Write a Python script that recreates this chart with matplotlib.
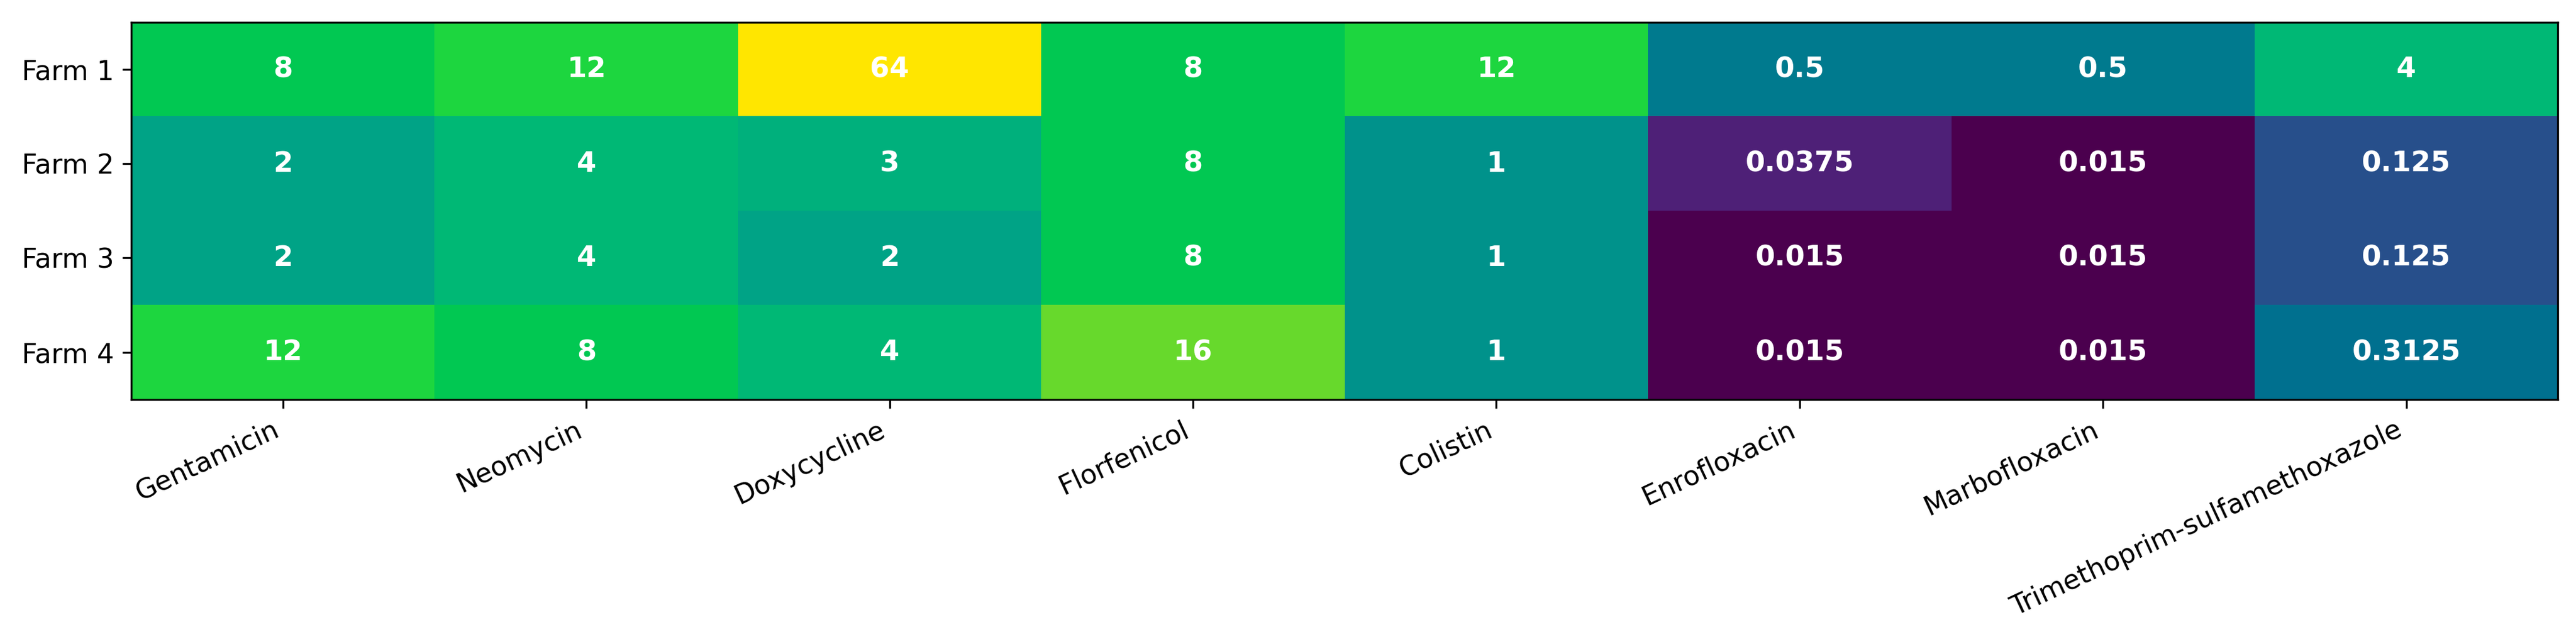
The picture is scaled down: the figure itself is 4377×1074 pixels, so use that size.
import numpy as np
import matplotlib
matplotlib.use("Agg")
import matplotlib.pyplot as plt
from matplotlib.colors import LinearSegmentedColormap, LogNorm

# Datos (MIC por granja y antibiótico)
farms = ["Farm 1", "Farm 2", "Farm 3", "Farm 4"]
antibiotics = ["Gentamicin", "Neomycin", "Doxycycline", "Florfenicol",
               "Colistin", "Enrofloxacin", "Marbofloxacin",
               "Trimethoprim-sulfamethoxazole"]
farm1 = [8, 12, 64, 8, 12, 0.5, 0.5, 4]
farm2 = [2, 4, 3, 8, 1, 0.0375, 0.015, 0.125]
farm3 = [2, 4, 2, 8, 1, 0.015, 0.015, 0.125]
farm4 = [12, 8, 4, 16, 1, 0.015, 0.015, 0.3125]
labels = [["8", "12", "64", "8", "12", "0.5", "0.5", "4"],
          ["2", "4", "3", "8", "1", "0.0375", "0.015", "0.125"],
          ["2", "4", "2", "8", "1", "0.015", "0.015", "0.125"],
          ["12", "8", "4", "16", "1", "0.015", "0.015", "0.3125"]]

data = np.array([farm1, farm2, farm3, farm4])

# Mapa de color aproximado al de la figura original
anchors = [(0.00, "#4b004e"), (0.11, "#4f2178"), (0.254, "#27508c"),
           (0.363, "#007090"), (0.42, "#007b8e"), (0.502, "#00938b"),
           (0.585, "#00a486"), (0.668, "#00b877"), (0.751, "#00c853"),
           (0.799, "#1bd640"), (0.834, "#66d92d"), (1.00, "#ffe600")]
cmap = LinearSegmentedColormap.from_list("mic", anchors)

fig, ax = plt.subplots(figsize=(14.59, 3.58), dpi=300)
ax.imshow(data, cmap=cmap, norm=LogNorm(vmin=data.min(), vmax=data.max()),
          aspect="auto")

for i in range(len(farms)):
    for j in range(len(antibiotics)):
        ax.text(j, i, labels[i][j], ha="center", va="center",
                color="white", fontweight="bold", fontsize=11.5)

ax.set_xticks(range(len(antibiotics)))
ax.set_xticklabels(antibiotics, rotation=25, ha="right", fontsize=11)
ax.set_yticks(range(len(farms)))
ax.set_yticklabels(farms, fontsize=11)

fig.subplots_adjust(left=0.051, right=0.993, top=0.965, bottom=0.368)
fig.savefig("out.png", dpi=300)
